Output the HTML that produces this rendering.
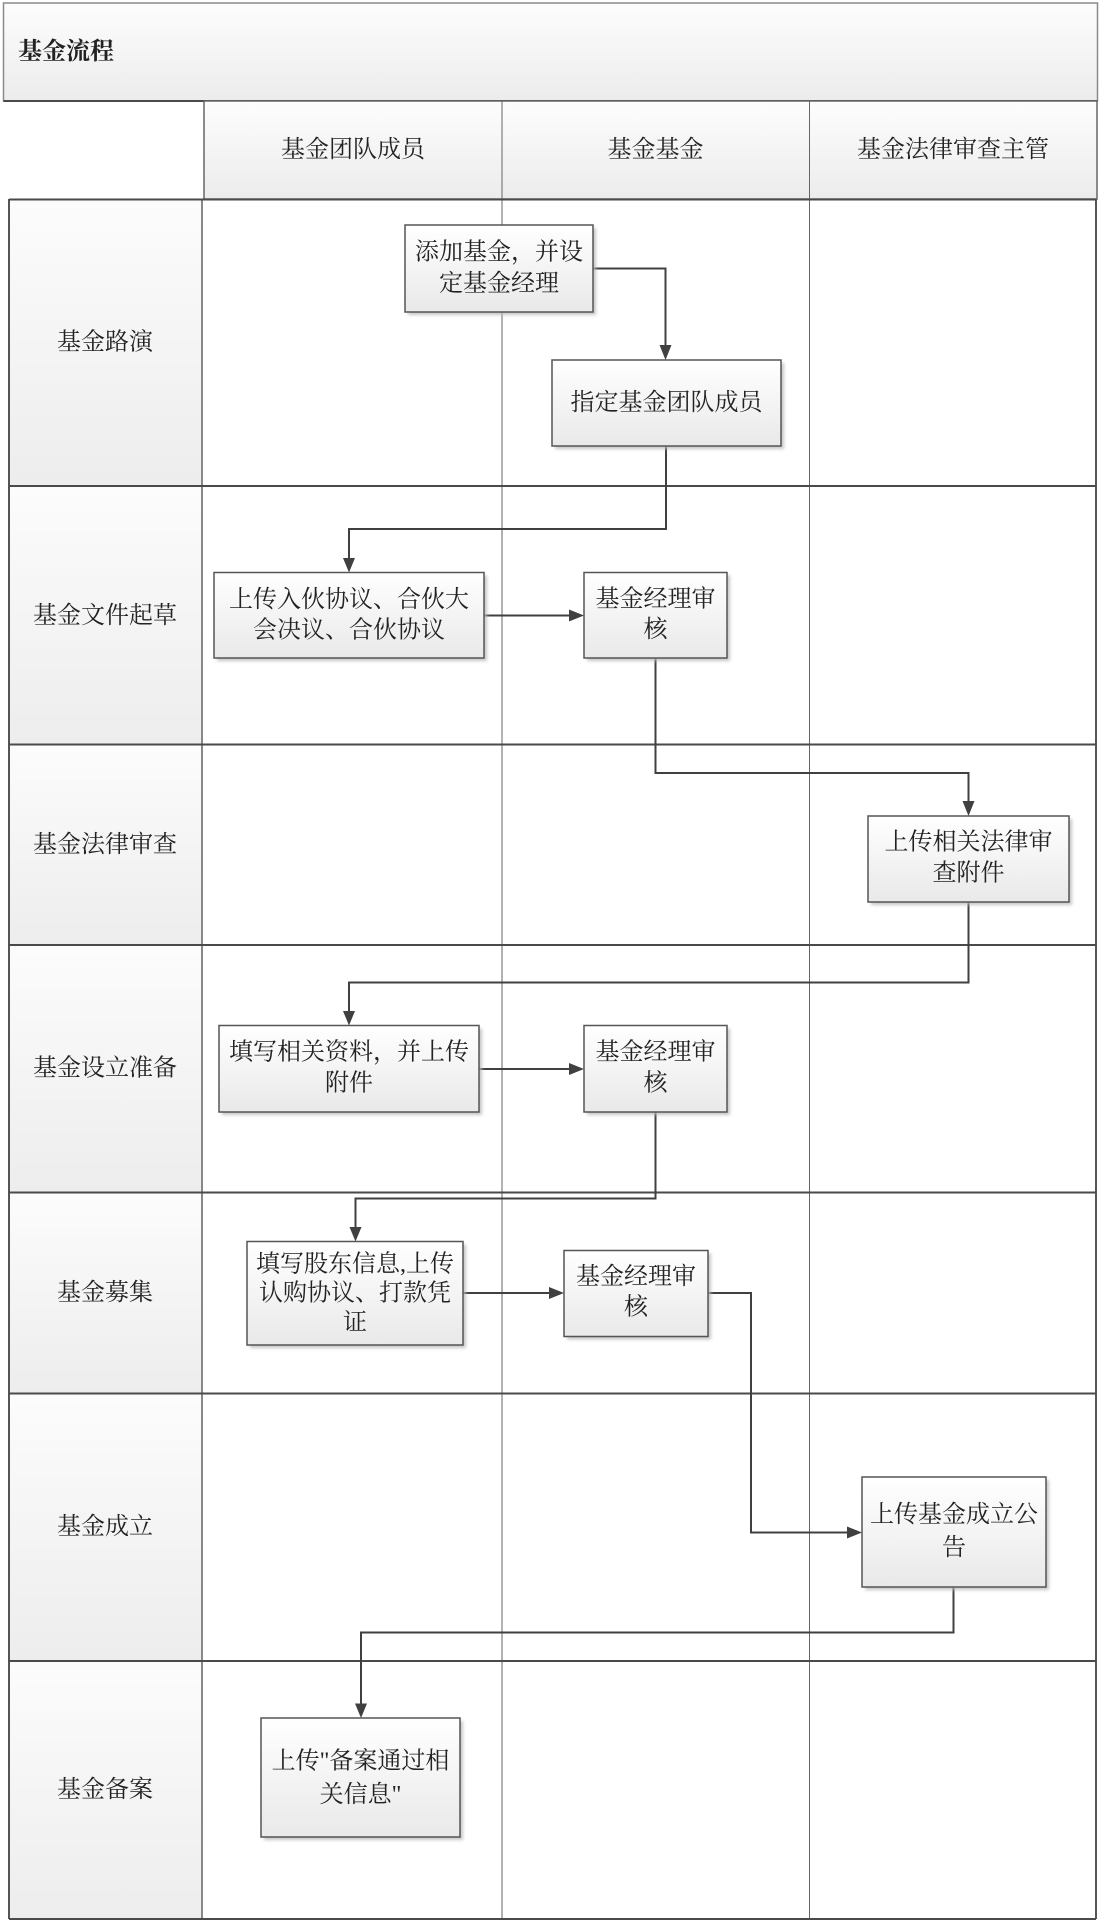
<!DOCTYPE html>
<html>
<head>
<meta charset="utf-8">
<style>
  html,body{margin:0;padding:0;background:#ffffff;}
  svg{display:block;}
  text{font-family:"Liberation Serif","Noto Serif CJK SC",serif;fill:#222;}
</style>
</head>
<body>
<svg width="1100" height="1923" viewBox="0 0 1100 1923" xmlns="http://www.w3.org/2000/svg">
  <defs>
    <linearGradient id="gHead" x1="0" y1="0" x2="0" y2="1">
      <stop offset="0" stop-color="#fdfdfd"/>
      <stop offset="1" stop-color="#ececec"/>
    </linearGradient>
    <linearGradient id="gLab" x1="0" y1="0" x2="0" y2="1">
      <stop offset="0" stop-color="#fcfcfc"/>
      <stop offset="1" stop-color="#ededed"/>
    </linearGradient>
    <linearGradient id="gBox" x1="0" y1="0" x2="0" y2="1">
      <stop offset="0" stop-color="#ffffff"/>
      <stop offset="1" stop-color="#e9e9e9"/>
    </linearGradient>
    <filter id="shd" x="-10%" y="-10%" width="130%" height="130%">
      <feGaussianBlur stdDeviation="1.5"/>
    </filter>
  </defs>

  <!-- Title -->
  <rect x="3.5" y="3" width="1094" height="98" fill="url(#gHead)" stroke="#8a8a8a" stroke-width="1.5"/>
  <line x1="3.5" y1="101" x2="1097.5" y2="101" stroke="#4a4a4a" stroke-width="2"/>
  <text x="18" y="52" font-size="24" font-weight="bold" dominant-baseline="central">基金流程</text>

  <!-- Header row -->
  <rect x="204" y="101" width="893" height="98" fill="url(#gHead)" stroke="#666" stroke-width="1.5"/>
  <line x1="502" y1="101" x2="502" y2="199" stroke="#666" stroke-width="1"/>
  <line x1="809.5" y1="101" x2="809.5" y2="199" stroke="#666" stroke-width="1"/>
  <text x="353" y="150" font-size="24" text-anchor="middle" dominant-baseline="central">基金团队成员</text>
  <text x="655.5" y="150" font-size="24" text-anchor="middle" dominant-baseline="central">基金基金</text>
  <text x="953" y="150" font-size="24" text-anchor="middle" dominant-baseline="central">基金法律审查主管</text>

  <!-- Label column backgrounds -->
  <rect x="9" y="199" width="193" height="287" fill="url(#gLab)"/>
  <rect x="9" y="486" width="193" height="258.5" fill="url(#gLab)"/>
  <rect x="9" y="744.5" width="193" height="200.5" fill="url(#gLab)"/>
  <rect x="9" y="945" width="193" height="247.5" fill="url(#gLab)"/>
  <rect x="9" y="1192.5" width="193" height="201" fill="url(#gLab)"/>
  <rect x="9" y="1393.5" width="193" height="267.5" fill="url(#gLab)"/>
  <rect x="9" y="1661" width="193" height="258" fill="url(#gLab)"/>

  <!-- Grid lines -->
  <g stroke="#888" stroke-width="2">
    <line x1="202" y1="199" x2="202" y2="1919"/>
  </g>
  <g stroke="#666" stroke-width="1">
    <line x1="502" y1="199" x2="502" y2="1919"/>
    <line x1="809.5" y1="199" x2="809.5" y2="1919"/>
  </g>
  <g stroke="#555" stroke-width="2">
    <line x1="9" y1="199" x2="9" y2="1919"/>
    <line x1="1096" y1="199" x2="1096" y2="1919"/>
  </g>
  <g stroke="#4a4a4a" stroke-width="2">
    <line x1="9" y1="199.5" x2="1096" y2="199.5"/>
    <line x1="9" y1="486" x2="1096" y2="486"/>
    <line x1="9" y1="744.5" x2="1096" y2="744.5"/>
    <line x1="9" y1="945" x2="1096" y2="945"/>
    <line x1="9" y1="1192.5" x2="1096" y2="1192.5"/>
    <line x1="9" y1="1393.5" x2="1096" y2="1393.5"/>
    <line x1="9" y1="1661" x2="1096" y2="1661"/>
    <line x1="9" y1="1919" x2="1096" y2="1919"/>
  </g>

  <!-- Row labels -->
  <g font-size="24" text-anchor="middle" dominant-baseline="central">
    <text x="105" y="342.5">基金路演</text>
    <text x="105" y="616">基金文件起草</text>
    <text x="105" y="845">基金法律审查</text>
    <text x="105" y="1068.5">基金设立准备</text>
    <text x="105" y="1293">基金募集</text>
    <text x="105" y="1527">基金成立</text>
    <text x="105" y="1790">基金备案</text>
  </g>

  <!-- Connectors -->
  <g fill="none" stroke="#404040" stroke-width="2">
    <polyline points="593,268.5 665.5,268.5 665.5,346"/>
    <polyline points="666,446 666,529 349,529 349,558.5"/>
    <polyline points="484,615.5 570,615.5"/>
    <polyline points="655.5,658 655.5,773 968.5,773 968.5,802"/>
    <polyline points="968.5,902 968.5,982.5 349,982.5 349,1011.5"/>
    <polyline points="479,1069 570,1069"/>
    <polyline points="655.5,1112 655.5,1198.5 355.5,1198.5 355.5,1227.5"/>
    <polyline points="463,1293 550,1293"/>
    <polyline points="708,1293 751,1293 751,1532.5 848,1532.5"/>
    <polyline points="953.5,1587 953.5,1632.5 361,1632.5 361,1704"/>
  </g>
  <g fill="#404040">
    <polygon points="659.5,345 671.5,345 665.5,360"/>
    <polygon points="343,558 355,558 349,572.5"/>
    <polygon points="569,609.5 569,621.5 584,615.5"/>
    <polygon points="962.5,801 974.5,801 968.5,816"/>
    <polygon points="343,1011 355,1011 349,1025.5"/>
    <polygon points="569,1063 569,1075 584,1069"/>
    <polygon points="349.5,1227 361.5,1227 355.5,1241.5"/>
    <polygon points="549,1287 549,1299 564,1293"/>
    <polygon points="847,1526.5 847,1538.5 862,1532.5"/>
    <polygon points="355,1703.5 367,1703.5 361,1718"/>
  </g>

  <!-- Box shadows -->
  <g fill="#b8b8b8" filter="url(#shd)" opacity="0.8">
    <rect x="408" y="228" width="188" height="87"/>
    <rect x="555" y="363" width="229" height="86"/>
    <rect x="217" y="575.5" width="270" height="85.5"/>
    <rect x="587" y="575.5" width="143" height="85.5"/>
    <rect x="871" y="819" width="201" height="86"/>
    <rect x="222" y="1028.5" width="260" height="86.5"/>
    <rect x="587" y="1028.5" width="143" height="86.5"/>
    <rect x="250" y="1244.5" width="216" height="103.5"/>
    <rect x="567" y="1253.5" width="144" height="86"/>
    <rect x="865" y="1480" width="184" height="110"/>
    <rect x="264" y="1721" width="199" height="119"/>
  </g>

  <!-- Boxes -->
  <g fill="url(#gBox)" stroke="#555" stroke-width="1.5">
    <rect x="405" y="225" width="188" height="87"/>
    <rect x="552" y="360" width="229" height="86"/>
    <rect x="214" y="572.5" width="270" height="85.5"/>
    <rect x="584" y="572.5" width="143" height="85.5"/>
    <rect x="868" y="816" width="201" height="86"/>
    <rect x="219" y="1025.5" width="260" height="86.5"/>
    <rect x="584" y="1025.5" width="143" height="86.5"/>
    <rect x="247" y="1241.5" width="216" height="103.5"/>
    <rect x="564" y="1250.5" width="144" height="86"/>
    <rect x="862" y="1477" width="184" height="110"/>
    <rect x="261" y="1718" width="199" height="119"/>
  </g>

  <!-- Box text -->
  <g font-size="24" text-anchor="middle" dominant-baseline="central">
    <text x="499" y="252.5">添加基金，并设</text>
    <text x="499" y="284">定基金经理</text>

    <text x="666.5" y="403">指定基金团队成员</text>

    <text x="349" y="600">上传入伙协议、合伙大</text>
    <text x="349" y="630.5">会决议、合伙协议</text>

    <text x="655.5" y="599.5">基金经理审</text>
    <text x="655.5" y="630">核</text>

    <text x="968.5" y="842.5">上传相关法律审</text>
    <text x="968.5" y="873.5">查附件</text>

    <text x="349" y="1052.5">填写相关资料，并上传</text>
    <text x="349" y="1083.5">附件</text>

    <text x="655.5" y="1052.5">基金经理审</text>
    <text x="655.5" y="1083.5">核</text>

    <text x="355" y="1264.5">填写股东信息,上传</text>
    <text x="355" y="1293.5">认购协议、打款凭</text>
    <text x="355" y="1323">证</text>

    <text x="636" y="1277">基金经理审</text>
    <text x="636" y="1307.5">核</text>

    <text x="954" y="1515">上传基金成立公</text>
    <text x="954" y="1548">告</text>

    <text x="360.5" y="1761.5">上传"备案通过相</text>
    <text x="360.5" y="1795">关信息"</text>
  </g>
</svg>
</body>
</html>
